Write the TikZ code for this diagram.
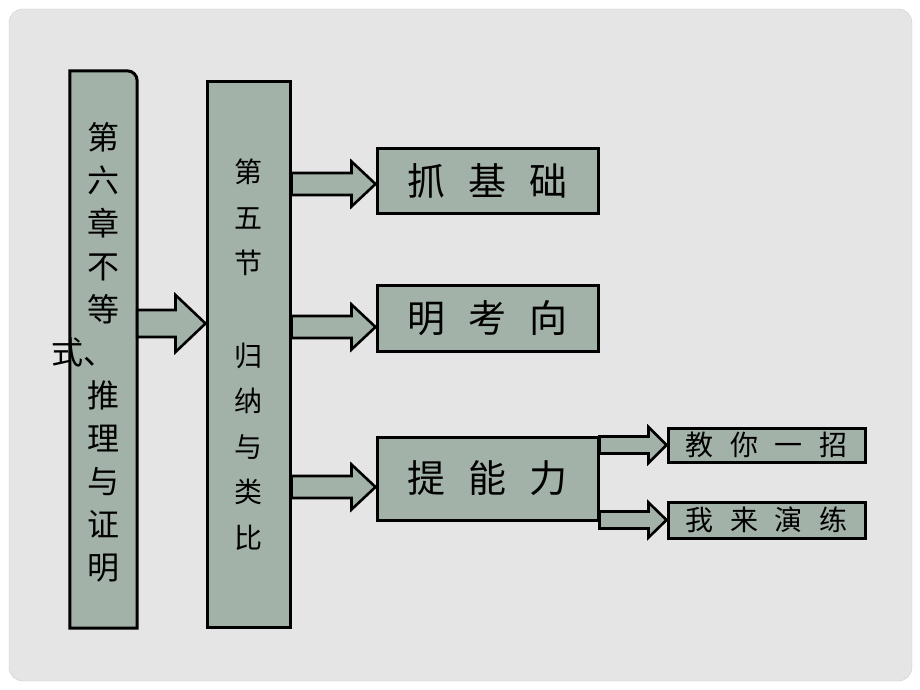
\documentclass[tikz,border=0pt]{standalone}
\usepackage{fontspec}
\newfontfamily\cjk{Noto Sans CJK SC}
\usetikzlibrary{calc}
\definecolor{boxgreen}{RGB}{163,178,168}
\definecolor{panelgray}{RGB}{229,229,229}
\tikzset{
  box/.style={draw=black,line width=3pt,fill=boxgreen,inner sep=0pt},
  arr/.style={draw=black,line width=2.6pt,fill=boxgreen,line join=miter},
  bigtext/.style={font=\cjk\fontsize{38}{40}\selectfont},
  smalltext/.style={font=\cjk\fontsize{28}{30}\selectfont}
}
\newcommand{\fatarrow}[5]{%
  \draw[arr] let \p1=(#1), \p2=(#2) in
    (\x1,{\y2+#3}) -- ({\x2-#5},{\y2+#3}) -- ({\x2-#5},{\y2+#4}) -- (\x2,\y2)
    -- ({\x2-#5},{\y2-#4}) -- ({\x2-#5},{\y2-#3}) -- (\x1,{\y2-#3}) -- cycle;}
\newcommand{\gap}{\hspace{0.6em}}

\begin{document}
\begin{tikzpicture}[x=1pt,y=-1pt]
\useasboundingbox[fill=white] (0,0) rectangle (920,690);
\draw[fill=panelgray,draw=gray!40,rounded corners=14pt] (9,9) rectangle (912,681);

\node[minimum width=67pt,minimum height=557pt,inner sep=0pt] (chap) at (103.5,349.5) {};
\draw[box] (chap.south west) -- (chap.north west) -- ($(chap.north east)+(-10,0)$)
  arc[start angle=90,end angle=0,radius=10pt] -- (chap.south east) -- cycle;
\node[align=center,font=\cjk\fontsize{32}{43}\selectfont] (chaptext) at ($(chap.center)+(0,3)$)
  {第\\六\\章\\不\\等\\\makebox[0pt]{\hspace*{-40pt}式、}\\推\\理\\与\\证\\明};

\node[box,minimum width=83pt,minimum height=545pt,align=center,
  font=\cjk\fontsize{28}{45.5}\selectfont] (sec) at (248.5,354.5)
  {第\\五\\节\\[47pt]归\\纳\\与\\类\\比};

\node[box,minimum width=221pt,minimum height=65pt,bigtext] (jichu) at (487.5,180.5) {抓\gap 基\gap 础};
\node[box,minimum width=221pt,minimum height=66pt,bigtext] (kaoxiang) at (487.5,318) {明\gap 考\gap 向};
\node[box,minimum width=221pt,minimum height=83pt,bigtext] (nengli) at (487.5,478.5) {提\gap 能\gap 力};
\node[box,minimum width=197pt,minimum height=34pt,smalltext] (jiaoni) at (766.5,445) {教\gap 你\gap 一\gap 招};
\node[box,minimum width=197pt,minimum height=36pt,smalltext] (lianxi) at (766.5,520) {我\gap 来\gap 演\gap 练};

\fatarrow{chap.east}{$(sec.west)+(0,-31)$}{13.5pt}{28.5pt}{30pt}
\fatarrow{sec.east}{$(jichu.west)+(0,3.5)$}{11pt}{22.5pt}{24pt}
\fatarrow{sec.east}{$(kaoxiang.west)+(0,9)$}{11pt}{22.5pt}{24pt}
\fatarrow{sec.east}{$(nengli.west)+(0,8.5)$}{11pt}{22.5pt}{24pt}
\fatarrow{nengli.east}{jiaoni.west}{8.5pt}{18pt}{18pt}
\fatarrow{nengli.east}{lianxi.west}{8.5pt}{17.5pt}{18pt}
\end{tikzpicture}
\end{document}
